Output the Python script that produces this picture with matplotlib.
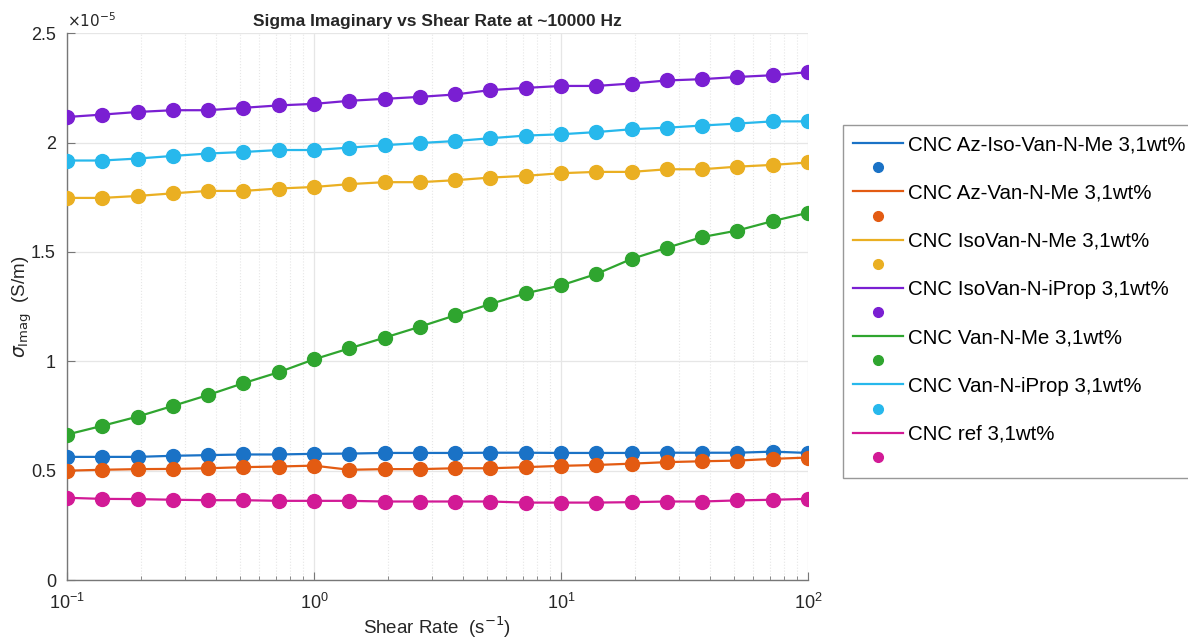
import numpy as np
import matplotlib.pyplot as plt
from matplotlib.lines import Line2D
from matplotlib.ticker import FuncFormatter, LogLocator, NullFormatter

plt.rcParams['font.family'] = ['Liberation Sans', 'DejaVu Sans']

# shear rate sweep, 7 points per decade
shear_rate = np.logspace(-1, 2, 22)

# imaginary conductivity, in units of 1e-5 S/m
az_iso_van_me = [0.563, 0.563, 0.563, 0.568, 0.571, 0.574, 0.574, 0.577, 0.578, 0.581, 0.581,
                 0.581, 0.582, 0.582, 0.581, 0.581, 0.581, 0.582, 0.582, 0.582, 0.587, 0.581]
az_van_me = [0.500, 0.504, 0.507, 0.508, 0.511, 0.516, 0.519, 0.523, 0.504, 0.507, 0.507,
             0.511, 0.511, 0.516, 0.522, 0.526, 0.532, 0.539, 0.543, 0.546, 0.554, 0.560]
isovan_me = [1.747, 1.747, 1.756, 1.768, 1.779, 1.779, 1.790, 1.797, 1.810, 1.819, 1.819,
             1.828, 1.840, 1.848, 1.860, 1.866, 1.866, 1.878, 1.878, 1.890, 1.898, 1.909]
isovan_iprop = [2.117, 2.128, 2.140, 2.148, 2.148, 2.159, 2.170, 2.177, 2.191, 2.200, 2.209,
                2.220, 2.240, 2.250, 2.259, 2.259, 2.270, 2.284, 2.290, 2.300, 2.308, 2.322]
van_me = [0.665, 0.705, 0.747, 0.796, 0.846, 0.900, 0.950, 1.009, 1.059, 1.108, 1.158,
          1.210, 1.262, 1.311, 1.347, 1.399, 1.468, 1.519, 1.568, 1.598, 1.641, 1.679]
van_iprop = [1.918, 1.918, 1.927, 1.939, 1.950, 1.957, 1.966, 1.966, 1.977, 1.988, 1.998,
             2.007, 2.020, 2.032, 2.038, 2.048, 2.061, 2.068, 2.078, 2.087, 2.097, 2.097]
ref = [0.376, 0.371, 0.370, 0.367, 0.365, 0.365, 0.362, 0.362, 0.362, 0.359, 0.359,
       0.359, 0.359, 0.354, 0.354, 0.354, 0.356, 0.359, 0.359, 0.364, 0.367, 0.371]

labels = ['CNC Az-Iso-Van-N-Me 3,1wt%', 'CNC Az-Van-N-Me 3,1wt%', 'CNC IsoVan-N-Me 3,1wt%',
          'CNC IsoVan-N-iProp 3,1wt%', 'CNC Van-N-Me 3,1wt%', 'CNC Van-N-iProp 3,1wt%',
          'CNC ref 3,1wt%']
series = [az_iso_van_me, az_van_me, isovan_me, isovan_iprop, van_me, van_iprop, ref]
colors = ['#1a72c6', '#e35b12', '#eaaf22', '#7a1fd2', '#2fa52f', '#27b8ec', '#d21a96']

scale = 1e-5

fig = plt.figure(figsize=(11.88, 6.39), dpi=100)
ax = fig.add_axes([0.0564, 0.0923, 0.6237, 0.8557])

handles = []
for y, c, lab in zip(series, colors, labels):
    vals = np.array(y) * scale
    ax.plot(shear_rate, vals, color=c, lw=1.6, zorder=3)
    ax.plot(shear_rate, vals, 'o', color=c, ms=10, zorder=4)
    handles.append(Line2D([], [], color=c, lw=1.6, label=lab))
    handles.append(Line2D([], [], color=c, marker='o', ls='none', ms=7, label=' '))

ax.set_xscale('log')
ax.set_xlim(0.1, 100)
ax.set_ylim(0, 2.5 * scale)
ax.set_yticks(np.arange(0, 2.51, 0.5) * scale)
ax.yaxis.set_major_formatter(FuncFormatter(lambda v, p: '%g' % round(v / scale, 3)))
ax.xaxis.set_minor_locator(LogLocator(base=10, subs=np.arange(2, 10)))
ax.xaxis.set_minor_formatter(NullFormatter())

ax.grid(True, which='major', color='#e6e6e6', lw=0.9, zorder=0)
ax.grid(True, which='minor', axis='x', color='#e6e6e6', lw=0.8, ls=':', zorder=0)

for side in ['top', 'right']:
    ax.spines[side].set_visible(False)
for side in ['left', 'bottom']:
    ax.spines[side].set_color('#777777')
    ax.spines[side].set_linewidth(1.0)
ax.tick_params(which='both', direction='in', colors='#777777', labelcolor='#262626', labelsize=13)
ax.tick_params(which='major', length=6)
ax.tick_params(which='minor', length=3)
ax.tick_params(axis='y', pad=8)
ax.tick_params(axis='x', pad=9)

ax.text(0.0, 1.005, r'$\times10^{-5}$', transform=ax.transAxes, fontsize=11,
        color='#262626', ha='left', va='bottom')
ax.set_title('Sigma Imaginary vs Shear Rate at ~10000 Hz', fontsize=12.5,
             fontweight='bold', color='#262626', pad=5)
ax.set_xlabel(r'Shear Rate  (s$^{-1}$)', fontsize=13.5, color='#262626', labelpad=1)
ax.set_ylabel(r'$\sigma_{\mathrm{Imag}}$  (S/m)', fontsize=13.5, color='#262626', labelpad=-2)

leg = fig.legend(handles=handles, loc='upper left', bbox_to_anchor=(843 / 1188, 1 - 125 / 639),
                 fontsize=14.8, frameon=True, fancybox=False, edgecolor='#7f7f7f',
                 handlelength=2.4, handletextpad=0.25, labelspacing=0.25, borderpad=0.5,
                 borderaxespad=0)
leg.get_frame().set_linewidth(1.0)

fig.savefig('out.png', dpi=100)
